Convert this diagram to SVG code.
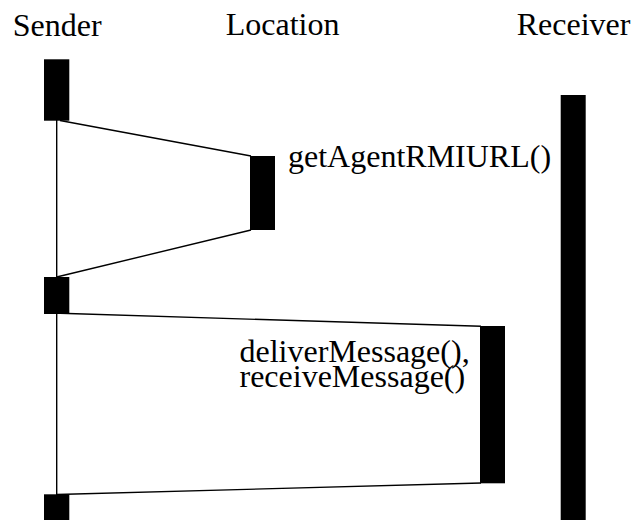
<svg xmlns="http://www.w3.org/2000/svg" width="631" height="520" viewBox="0 0 631 520">
<style>
text{font-family:"Liberation Serif","Times New Roman",serif;font-size:32px;fill:#000}
.bar{fill:#000}
.ln{stroke:#000;stroke-width:1.4;fill:none}
</style>
<rect width="631" height="520" fill="#fff"/>
<g id="connectors">
<line class="ln" x1="56.7" y1="120" x2="56.7" y2="278"/>
<line class="ln" x1="56.7" y1="313" x2="56.7" y2="496"/>
<line class="ln" x1="60" y1="120.5" x2="251" y2="156"/>
<line class="ln" x1="251" y1="230" x2="56.7" y2="277"/>
<line class="ln" x1="60" y1="313.3" x2="481" y2="326.3"/>
<line class="ln" x1="481" y1="483" x2="56.7" y2="494.5"/>
</g>
<g id="sender">
<text x="12.7" y="35.7">Sender</text>
<rect class="bar" x="44" y="59.3" width="25.3" height="61.4"/>
<rect class="bar" x="44" y="277" width="25.3" height="37"/>
<rect class="bar" x="44" y="494.3" width="25.3" height="26"/>
</g>
<g id="location">
<text x="225.7" y="35">Location</text>
<rect class="bar" x="250" y="156" width="25" height="74"/>
<text x="288" y="166.7">getAgentRMIURL()</text>
</g>
<g id="receiver">
<text x="516.7" y="35">Receiver</text>
<rect class="bar" x="560.7" y="95" width="25" height="425"/>
<rect class="bar" x="480" y="326" width="25" height="157.3"/>
<text x="239.5" y="361.5">deliverMessage(),</text>
<text x="239.5" y="387.3">receiveMessage()</text>
</g>
</svg>
